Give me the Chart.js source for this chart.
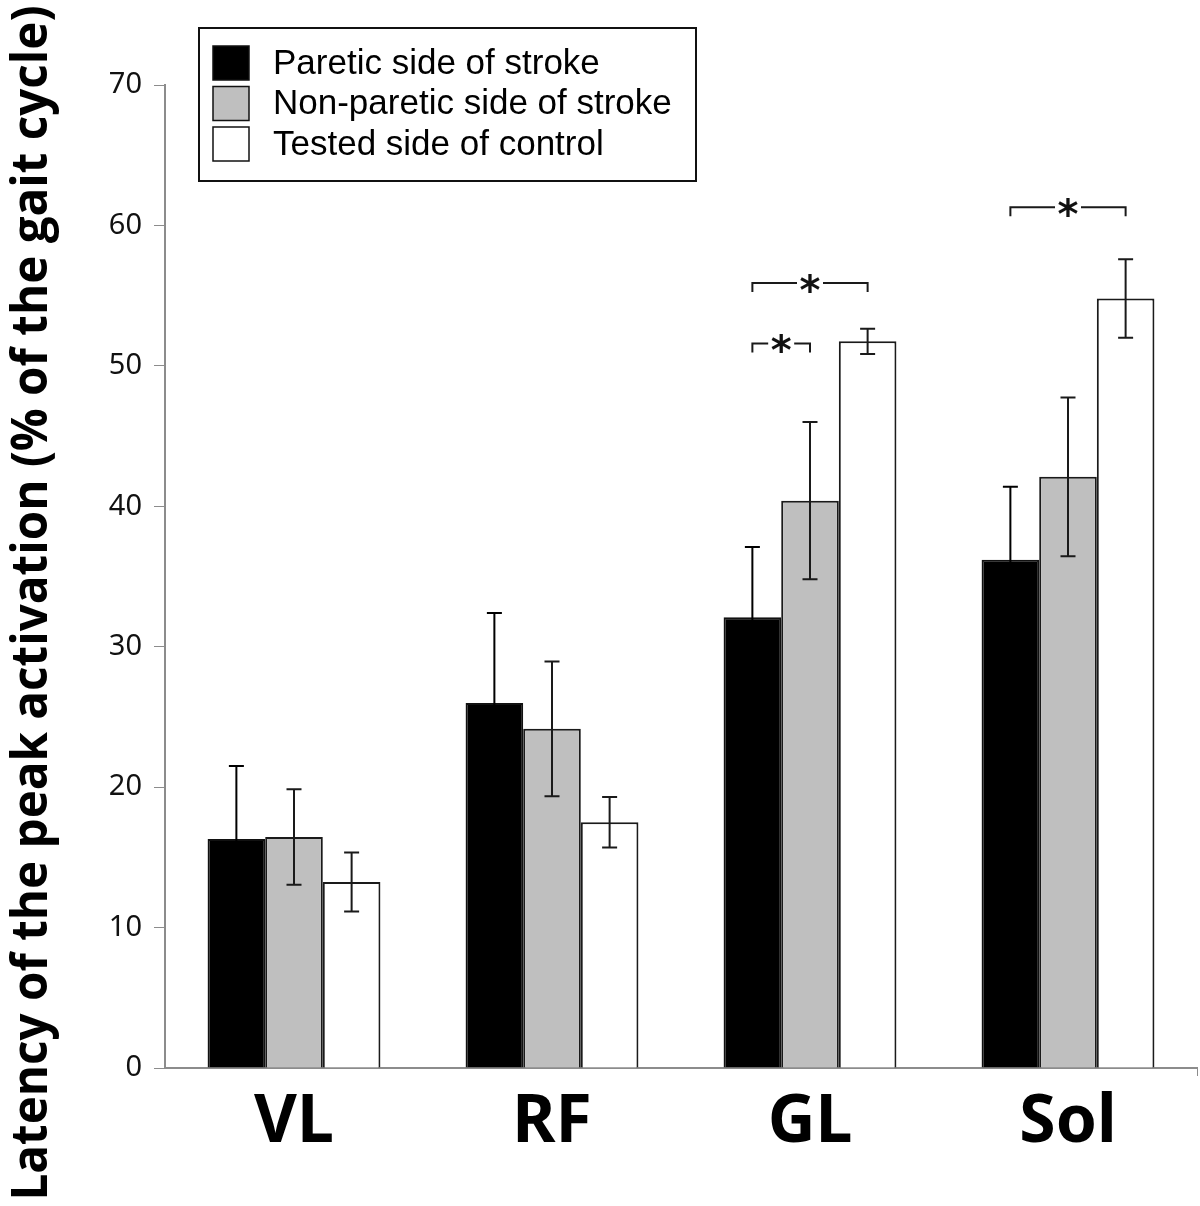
<!DOCTYPE html>
<html>
<head>
<meta charset="utf-8">
<script src="https://cdn.jsdelivr.net/npm/chart.js@4.4.0/dist/chart.umd.min.js"></script>
<style>
  body { margin: 0; background: #fff; }
  #wrap { width: 1200px; height: 1206px; }
</style>
</head>
<body>
<div id="wrap"><canvas id="myChart" width="1200" height="1206"></canvas></div>
<script>
// muscles on the x axis
let muscles = ["VL", "RF", "GL", "Sol"]
let seriesNames = ["Paretic side of stroke", "Non-paretic side of stroke", "Tested side of control"]

// mean latency (% of the gait cycle) and error bars
let paretic = [16.3, 26.0, 32.1, 36.2]
let pareticErr = [5.2, 6.4, 5.0, 5.2]
let nonParetic = [16.45, 24.15, 40.4, 42.1]
let nonPareticErr = [3.4, 4.8, 5.6, 5.65]
let control = [13.25, 17.5, 51.75, 54.8]
let controlErr = [2.1, 1.8, 0.9, 2.8]

let yTicks = [0, 10, 20, 30, 40, 50, 60, 70]

// significance brackets: muscle index, from series, to series, height (%)
let sigMuscle = [2, 2, 3]
let sigFrom = [0, 0, 0]
let sigTo = [1, 2, 2]
let sigLevel = [51.6, 55.9, 61.3]

const axisTitle = "Latency of the peak activation (% of the gait cycle)"

const errorBars = {
    id: 'errorBars',
    afterDatasetsDraw(chart) {
        const ctx = chart.ctx
        const y = chart.scales.y
        ctx.save()
        ctx.lineWidth = 2
        chart.data.datasets.forEach((ds, di) => {
            const meta = chart.getDatasetMeta(di)
            // black on the black bars so the lower half disappears, like the original
            ctx.strokeStyle = di === 0 ? '#000' : '#1a1a1a'
            meta.data.forEach((bar, i) => {
                const top = y.getPixelForValue(ds.data[i] + ds.errors[i])
                const bot = y.getPixelForValue(ds.data[i] - ds.errors[i])
                ctx.beginPath()
                ctx.moveTo(bar.x, top); ctx.lineTo(bar.x, bot)
                ctx.moveTo(bar.x - 7.5, top); ctx.lineTo(bar.x + 7.5, top)
                ctx.moveTo(bar.x - 7.5, bot); ctx.lineTo(bar.x + 7.5, bot)
                ctx.stroke()
            })
        })
        ctx.restore()
    }
}

const brackets = {
    id: 'brackets',
    afterDatasetsDraw(chart) {
        const ctx = chart.ctx
        const y = chart.scales.y
        ctx.save()
        ctx.strokeStyle = '#1a1a1a'
        ctx.lineWidth = 2
        ctx.font = 'bold 40px "DejaVu Sans"'
        ctx.textAlign = 'center'
        ctx.textBaseline = 'alphabetic'
        for (let k = 0; k < sigMuscle.length; k++) {
            const x1 = chart.getDatasetMeta(sigFrom[k]).data[sigMuscle[k]].x
            const x2 = chart.getDatasetMeta(sigTo[k]).data[sigMuscle[k]].x
            const ly = y.getPixelForValue(sigLevel[k])
            const mid = (x1 + x2) / 2
            ctx.beginPath()
            ctx.moveTo(x1, ly + 9); ctx.lineTo(x1, ly); ctx.lineTo(mid - 13, ly)
            ctx.moveTo(mid + 13, ly); ctx.lineTo(x2, ly); ctx.lineTo(x2, ly + 9)
            ctx.stroke()
            const m = ctx.measureText('*')
            ctx.fillStyle = '#111'
            ctx.fillText('*', mid, ly + (m.actualBoundingBoxAscent - m.actualBoundingBoxDescent) / 2)
        }
        ctx.restore()
    }
}

const legendBox = {
    id: 'legendBox',
    afterDraw(chart) {
        const ctx = chart.ctx
        ctx.save()
        ctx.fillStyle = '#fff'
        ctx.fillRect(199, 28, 497, 153)
        ctx.strokeStyle = '#111'
        ctx.lineWidth = 2
        ctx.strokeRect(199, 28, 497, 153)
        ctx.font = '35px "Liberation Sans"'
        ctx.textBaseline = 'middle'
        chart.data.datasets.forEach((ds, i) => {
            const top = 46 + i * 40.5
            ctx.fillStyle = ds.backgroundColor
            ctx.fillRect(213, top, 36, 34)
            ctx.lineWidth = 1.5
            ctx.strokeRect(213, top, 36, 34)
            ctx.fillStyle = '#000'
            ctx.fillText(ds.label, 273, top + 18)
        })
        ctx.restore()
    }
}

const yTitle = {
    id: 'yTitle',
    afterDraw(chart) {
        const ctx = chart.ctx
        ctx.save()
        ctx.translate(31, 603)
        ctx.rotate(-Math.PI / 2)
        ctx.font = 'bold 50px "Open Sans"'
        ctx.textAlign = 'center'
        ctx.textBaseline = 'middle'
        const w = ctx.measureText(axisTitle).width
        ctx.scale(1195 / w, 1)
        ctx.fillStyle = '#000'
        ctx.fillText(axisTitle, 0, 2)
        ctx.restore()
    }
}

var ctx = document.getElementById('myChart')

var myChart = new Chart(ctx, {
    type: 'bar',
    data: {
        labels: muscles,
        datasets: [{
            label: seriesNames[0],
            data: paretic,
            errors: pareticErr,
            backgroundColor: '#000000',
            borderColor: '#111111',
            borderWidth: 2
        }, {
            label: seriesNames[1],
            data: nonParetic,
            errors: nonPareticErr,
            backgroundColor: '#bfbfbf',
            borderColor: '#1a1a1a',
            borderWidth: 2
        }, {
            label: seriesNames[2],
            data: control,
            errors: controlErr,
            backgroundColor: '#ffffff',
            borderColor: '#1a1a1a',
            borderWidth: 2
        }]
    },
    options: {
        responsive: false,
        animation: false,
        layout: { padding: { top: 85, right: 3, left: 0, bottom: 0 } },
        datasets: { bar: { categoryPercentage: 0.67, barPercentage: 1.0, borderSkipped: 'bottom' } },
        plugins: {
            legend: { display: false },
            tooltip: { enabled: false }
        },
        scales: {
            x: {
                offset: true,
                grid: {
                    drawOnChartArea: false,
                    tickLength: 8,
                    color: (c) => c.index === undefined ? '#8c8c8c' : 'rgba(0,0,0,0)'
                },
                border: { color: '#8c8c8c', width: 2 },
                ticks: {
                    color: '#000',
                    padding: 8,
                    font: { family: 'Noto Sans', weight: 'bold', size: 66 }
                },
                afterFit: (s) => { s.height = 138 }
            },
            y: {
                min: 0,
                max: 70,
                afterBuildTicks: (s) => { s.ticks = yTicks.map(v => ({ value: v })) },
                grid: { drawOnChartArea: false, tickLength: 11, color: '#8c8c8c' },
                border: { color: '#8c8c8c', width: 2 },
                ticks: {
                    color: '#111',
                    padding: 12,
                    font: { family: 'Noto Sans', size: 29 }
                },
                afterFit: (s) => { s.width = 165 }
            }
        }
    },
    plugins: [errorBars, brackets, legendBox, yTitle]
});
</script>
</body>
</html>
